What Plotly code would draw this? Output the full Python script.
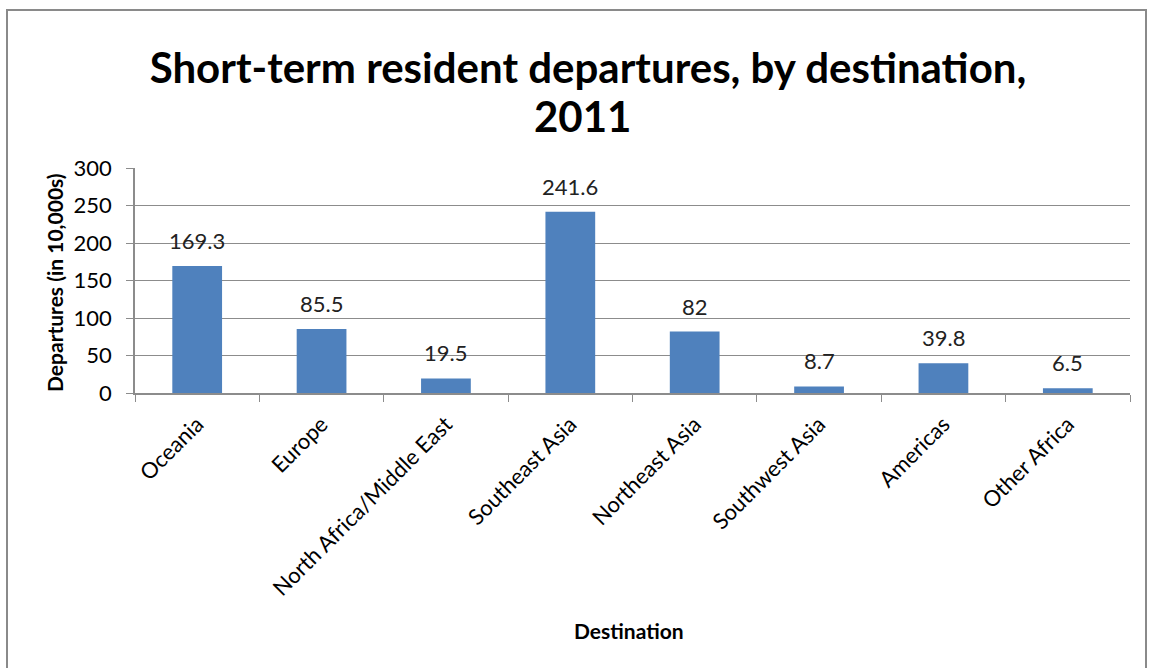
import plotly.graph_objects as go

# Short-term resident departures by destination, 2011 (in 10,000s)
destinations = ["Oceania", "Europe", "North Africa/Middle East", "Southeast Asia",
                "Northeast Asia", "Southwest Asia", "Americas", "Other Africa"]
departures = [169.3, 85.5, 19.5, 241.6, 82, 8.7, 39.8, 6.5]
value_labels = ["169.3", "85.5", "19.5", "241.6", "82", "8.7", "39.8", "6.5"]
y_ticks = [0, 50, 100, 150, 200, 250, 300]
title_lines = ["Short-term resident departures, by destination,", "2011"]

FONT = "Lato, Carlito, Calibri, sans-serif"
BAR = "#4F81BD"
GRID = "#8C8C8C"

# plot-area geometry in pixels
W, H = 1150, 668
L, R, T, B = 135, 1130, 168, 393

fig = go.Figure()
fig.add_trace(go.Bar(
    x=destinations, y=departures,
    marker=dict(color=BAR, line=dict(width=0)),
    hoverinfo="x+y",
))

for d, v, lab in zip(destinations, departures, value_labels):
    fig.add_annotation(x=d, y=v, text=lab, showarrow=False,
                       yanchor="bottom", yshift=10,
                       font=dict(family=FONT, size=22, color="#222222"))

def px_x(p):
    return (p - L) / (R - L)

def px_y(p):
    return (B - p) / (B - T)

# chart-area border
fig.add_shape(type="rect", xref="paper", yref="paper",
              x0=px_x(7), x1=px_x(1146), y0=px_y(700), y1=px_y(10),
              line=dict(color="#8A8A8A", width=2), fillcolor="rgba(0,0,0,0)",
              layer="below")

# second title line, set with tighter leading than the default <br>
fig.add_annotation(xref="paper", yref="paper", x=px_x(582), y=px_y(116),
                   text="<b>%s</b>" % title_lines[1], showarrow=False,
                   xanchor="center", yanchor="middle",
                   font=dict(family=FONT, size=42, color="black"))

# axis titles
fig.add_annotation(xref="paper", yref="paper", x=px_x(54), y=px_y(283),
                   text="<b>Departures (in 10,000s)</b>", textangle=-90,
                   showarrow=False, xanchor="center", yanchor="middle",
                   font=dict(family=FONT, size=21, color="black"))
fig.add_annotation(xref="paper", yref="paper", x=px_x(629), y=px_y(630),
                   text="<b>Destination</b>", showarrow=False,
                   xanchor="center", yanchor="middle",
                   font=dict(family=FONT, size=21, color="black"))

fig.update_layout(
    width=W, height=H,
    margin=dict(l=L, r=W - R, t=T, b=H - B, pad=0),
    paper_bgcolor="white", plot_bgcolor="white",
    bargap=0.6,
    showlegend=False,
    title=dict(
        text="<b>%s</b>" % title_lines[0],
        x=588 / W, xanchor="center", y=1 - 68 / H, yanchor="middle",
        font=dict(family=FONT, size=42, color="black"),
    ),
    xaxis=dict(
        tickangle=-45, tickfont=dict(family=FONT, size=22, color="black"),
        showline=True, linecolor=GRID, linewidth=1.5,
        ticks="outside", ticklen=7, tickcolor=GRID, tickson="boundaries",
        ticklabelstandoff=8,
        showgrid=False,
    ),
    yaxis=dict(
        range=[0, 300], tickvals=y_ticks,
        tickfont=dict(family=FONT, size=22, color="black"),
        showline=True, linecolor=GRID, linewidth=1.5,
        ticks="outside", ticklen=7, tickcolor=GRID,
        ticklabelstandoff=10,
        showgrid=True, gridcolor=GRID, gridwidth=1.2,
        zeroline=False,
    ),
)

fig.write_html("out.html")
